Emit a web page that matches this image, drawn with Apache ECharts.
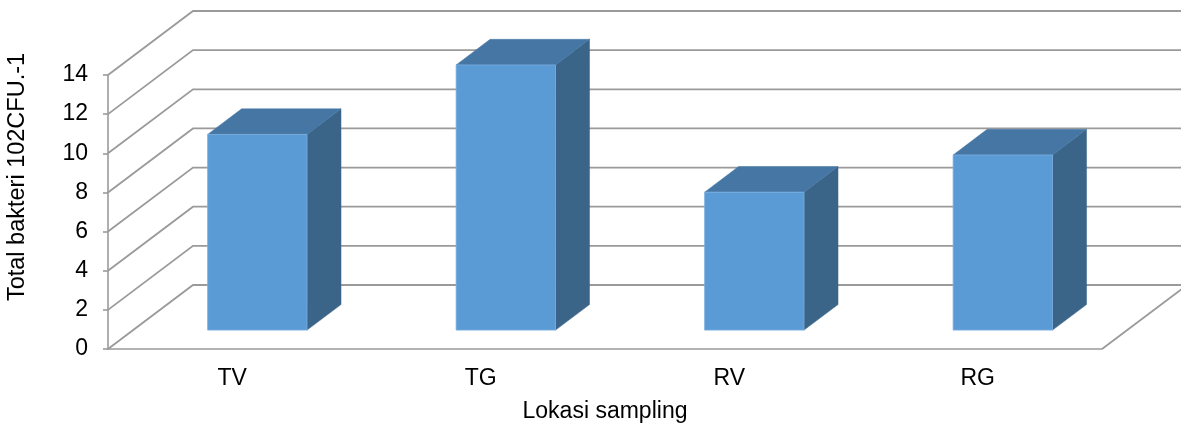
<!DOCTYPE html>
<html>
<head>
<meta charset="utf-8">
<script src="https://cdn.jsdelivr.net/npm/echarts@6/dist/echarts.min.js"></script>
<style>
html,body{margin:0;padding:0;background:#fff;}
#chart{width:1181px;height:430px;}
</style>
</head>
<body>
<div id="chart"></div>
<script>
const categories = ['TV', 'TG', 'RV', 'RG'];
const values = [10.0, 13.55, 7.05, 8.95];
const yTicks = [0, 2, 4, 6, 8, 10, 12, 14];
const yTitle = 'Total bakteri 102CFU.-1';
const xTitle = 'Lokasi sampling';

const DX = 85, DY = -64;       // depth of the 3D box (px)
const F0 = 0.295, F1 = 0.695;  // bar front/back depth fractions
const BAR_FRAC = 0.4;
const FONT = 'Liberation Sans, Arial, sans-serif';
const LINE = '#9a9a9a';

const chart = echarts.init(document.getElementById('chart'), null, {renderer: 'canvas'});

const option = {
  animation: false,
  backgroundColor: '#ffffff',
  grid: {left: 108, right: 79, top: 75, bottom: 81, containLabel: false},
  xAxis: {
    type: 'category',
    data: categories,
    axisLine: {show: true, lineStyle: {color: LINE, width: 1.6}},
    axisTick: {show: false},
    axisLabel: {fontSize: 23, color: '#000', margin: 18, fontFamily: FONT},
    name: xTitle,
    nameLocation: 'middle',
    nameGap: 51,
    nameTextStyle: {fontSize: 23, color: '#000', fontFamily: FONT},
    splitLine: {show: false}
  },
  yAxis: {
    type: 'value',
    min: 0, max: 14, interval: 2,
    axisLine: {show: true, lineStyle: {color: LINE, width: 1.6}},
    axisTick: {show: true, length: 5, lineStyle: {color: LINE, width: 1.6}},
    axisLabel: {fontSize: 23, color: '#000', margin: 20, fontFamily: FONT},
    splitLine: {show: false}
  },
  graphic: [{
    type: 'text',
    x: 18, y: 177,
    rotation: Math.PI / 2,
    style: {
      text: yTitle,
      fontSize: 23.5,
      fontFamily: FONT,
      fill: '#000',
      align: 'center',
      verticalAlign: 'middle'
    }
  }],
  series: [
    {
      type: 'custom',
      name: 'walls',
      z: 1,
      silent: true,
      data: yTicks.map(v => [0, v]),
      encode: {x: 0, y: 1},
      renderItem: function (params, api) {
        const cs = params.coordSys;
        const v = api.value(1);
        const p = api.coord([0, v]);
        const y = p[1];
        const x0 = cs.x, x1 = cs.x + cs.width;
        const children = [{
          type: 'polyline',
          shape: {points: [[x0, y], [x0 + DX, y + DY], [x1 + DX, y + DY]]},
          style: {stroke: LINE, lineWidth: 1.8, fill: null}
        }];
        if (v === 0) {
          children.push({
            type: 'line',
            shape: {x1: x1, y1: y, x2: x1 + DX, y2: y + DY},
            style: {stroke: LINE, lineWidth: 1.8}
          });
        }
        return {type: 'group', children: children};
      }
    },
    {
      type: 'custom',
      name: 'bars',
      z: 3,
      data: categories.map((c, i) => [i, values[i]]),
      encode: {x: 0, y: 1},
      renderItem: function (params, api) {
        const i = api.value(0), v = api.value(1);
        const base = api.coord([i, 0]);
        const top = api.coord([i, v]);
        const band = api.size([1, 0])[0];
        const bw = band * BAR_FRAC;
        const ox = DX * F0, oy = DY * F0;
        const ddx = DX * (F1 - F0), ddy = DY * (F1 - F0);
        const L = base[0] + ox - bw / 2, R = base[0] + ox + bw / 2;
        const T = top[1] + oy, B = base[1] + oy;
        return {
          type: 'group',
          children: [
            {
              type: 'polygon',
              shape: {points: [[R, T], [R + ddx, T + ddy], [R + ddx, B + ddy], [R, B]]},
              style: {fill: '#3a6488', stroke: '#3a6488', lineWidth: 0.5}
            },
            {
              type: 'polygon',
              shape: {points: [[L, T], [R, T], [R + ddx, T + ddy], [L + ddx, T + ddy]]},
              style: {fill: '#4677a4', stroke: '#4677a4', lineWidth: 0.5}
            },
            {
              type: 'rect',
              shape: {x: L, y: T, width: bw, height: B - T},
              style: {fill: '#5b9bd5', stroke: '#7aaee0', lineWidth: 0.8}
            }
          ]
        };
      }
    }
  ]
};

chart.setOption(option);
</script>
</body>
</html>
